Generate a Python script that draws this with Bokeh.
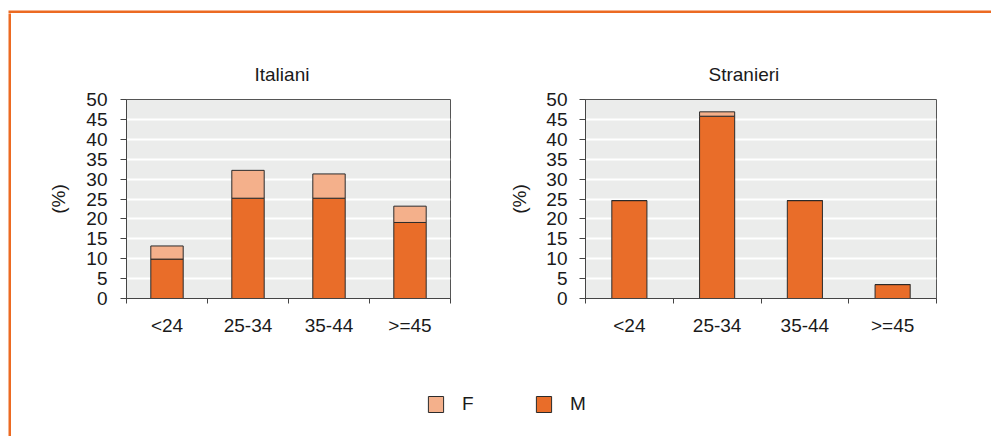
from bokeh.plotting import figure
from bokeh.models import Range1d, FixedTicker, ColumnDataSource, Legend, LegendItem
from bokeh.layouts import row, column
from bokeh.embed import file_html
from bokeh.resources import INLINE
import numpy as np

# ---- data ----
categories = ["<24", "25-34", "35-44", ">=45"]
italiani_M = [9.9, 25.2, 25.2, 19.1]
italiani_F = [3.3, 7.0, 6.1, 4.1]
stranieri_M = [24.6, 45.8, 24.6, 3.5]
stranieri_F = [0.0, 1.1, 0.0, 0.0]
y_ticks = [0, 5, 10, 15, 20, 25, 30, 35, 40, 45, 50]
titles = ["Italiani", "Stranieri"]
series = ["F", "M"]
y_label = "(%)"

# ---- style ----
ORANGE = "#E96D29"
LIGHT = "#F4B08B"
BG = "#EBECEB"
FONT = "Liberation Sans"
TXT = "#1a1a1a"
EDGE = "#2b2b2b"
FRAME_ORANGE = "#EC6A22"


def make_chart(title, m_vals, f_vals, width, height, mb_left, mb_top, mb_right, mb_bottom,
               title_offset, tick_standoff, axis_standoff):
    n = len(categories)
    centers = list(np.arange(n) + 0.5)
    src = ColumnDataSource(dict(x=centers, M=m_vals, F=f_vals))
    p = figure(width=width, height=height, output_backend="svg", toolbar_location=None,
               x_range=Range1d(0, n), y_range=Range1d(0, 50),
               min_border_left=mb_left, min_border_top=mb_top, min_border_right=mb_right,
               min_border_bottom=mb_bottom)
    p.background_fill_color = BG
    p.border_fill_color = "white"
    p.outline_line_color = "#555555"
    p.outline_line_width = 1

    p.vbar_stack(["M", "F"], x="x", width=0.4, source=src,
                 fill_color=[ORANGE, LIGHT], line_color=EDGE, line_width=1)

    # title
    p.title.text = title
    p.title.align = "left"
    p.title.offset = title_offset
    p.title.standoff = 30
    p.title.text_font = FONT
    p.title.text_font_size = "19px"
    p.title.text_font_style = "normal"
    p.title.text_color = TXT

    # x axis
    xa = p.xaxis[0]
    xa.ticker = FixedTicker(ticks=centers, minor_ticks=list(range(n + 1)))
    xa.major_label_overrides = {c: lab for c, lab in zip(centers, categories)}
    xa.major_tick_out = 0
    xa.major_tick_in = 0
    xa.minor_tick_out = 5
    xa.minor_tick_in = 0
    xa.minor_tick_line_color = "#444444"
    xa.axis_line_color = "#444444"
    xa.major_label_standoff = 11
    xa.major_label_text_font = FONT
    xa.major_label_text_font_size = "19px"
    xa.major_label_text_color = TXT

    # y axis
    ya = p.yaxis[0]
    ya.ticker = FixedTicker(ticks=y_ticks)
    ya.major_tick_out = 6
    ya.major_tick_in = 0
    ya.minor_tick_out = 0
    ya.minor_tick_in = 0
    ya.major_tick_line_color = "#444444"
    ya.axis_line_color = "#444444"
    ya.major_label_standoff = tick_standoff
    ya.major_label_text_font = FONT
    ya.major_label_text_font_size = "19px"
    ya.major_label_text_color = TXT
    ya.axis_label = y_label
    ya.axis_label_standoff = axis_standoff
    ya.axis_label_text_font = FONT
    ya.axis_label_text_font_size = "19px"
    ya.axis_label_text_font_style = "normal"
    ya.axis_label_text_color = TXT

    p.xgrid.visible = False
    p.ygrid.ticker = FixedTicker(ticks=y_ticks)
    p.ygrid.grid_line_color = "white"
    p.ygrid.grid_line_width = 2
    return p


ROW_H = 348
figL = make_chart(titles[0], italiani_M, italiani_F, 494, ROW_H, 115, 84, 55, 63, 128, 13, 14)
figR = make_chart(titles[1], stranieri_M, stranieri_F, 486, ROW_H, 80, 86, 55, 61, 123, 12, 13)

# legend figure
leg = figure(width=980, height=75, output_backend="svg", toolbar_location=None, title=None,
             x_range=Range1d(0, 1), y_range=Range1d(0, 1), min_border=0,
             x_axis_location=None, y_axis_location=None)
leg.outline_line_color = None
leg.background_fill_color = "white"
leg.border_fill_color = "white"
leg.xgrid.visible = False
leg.ygrid.visible = False
proxy = ColumnDataSource(dict(x=[np.nan], top=[np.nan]))
rF = leg.vbar(x="x", top="top", width=0.1, source=proxy, fill_color=LIGHT, line_color=EDGE)
rM = leg.vbar(x="x", top="top", width=0.1, source=proxy, fill_color=ORANGE, line_color=EDGE)
legend = Legend(items=[LegendItem(label=series[0], renderers=[rF]),
                       LegendItem(label=series[1], renderers=[rM])],
                orientation="horizontal", location=(415, 21),
                glyph_width=19, glyph_height=20, label_standoff=17, spacing=52,
                padding=0, margin=0, border_line_color=None, background_fill_alpha=0,
                label_text_font=FONT, label_text_font_size="19px", label_text_color=TXT)
leg.add_layout(legend, "center")


def strip(w, h, top=0, left=0):
    s = figure(width=w, height=h, output_backend="svg", toolbar_location=None, title=None,
               x_range=Range1d(0, 1), y_range=Range1d(0, 1), min_border=0,
               min_border_top=top, min_border_left=left,
               x_axis_location=None, y_axis_location=None)
    s.background_fill_color = FRAME_ORANGE
    s.border_fill_color = "white"
    s.outline_line_color = None
    s.xgrid.visible = False
    s.ygrid.visible = False
    return s


top_strip = strip(991, 13, top=10, left=8)
left_strip = strip(11, 423, left=8)

root = column(top_strip, row(left_strip, column(row(figL, figR), leg)))

open("out.html", "w").write(file_html(root, INLINE))
